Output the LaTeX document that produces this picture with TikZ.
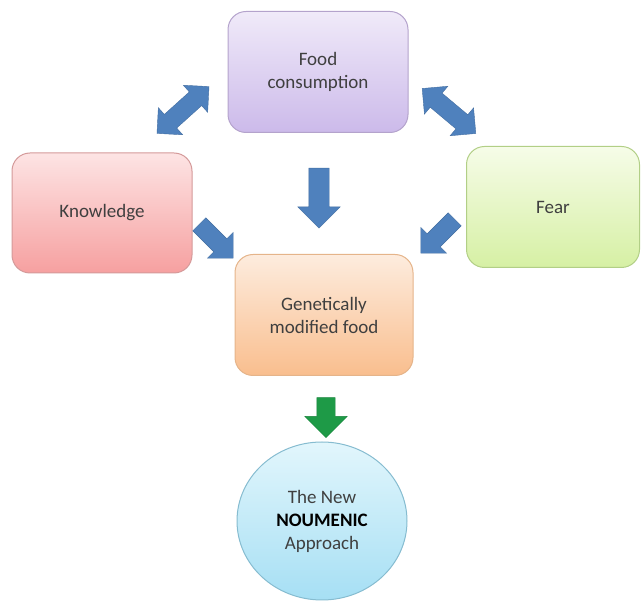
\documentclass[tikz,border=0pt]{standalone}
\usepackage{fontspec}
\setmainfont{Carlito}
\usetikzlibrary{shapes.arrows,shapes.geometric}

\definecolor{txtgray}{HTML}{3F3F3F}
\definecolor{arrowblue}{HTML}{4F81BD}
\definecolor{arrowgreen}{HTML}{1E9A47}
\definecolor{foodline}{HTML}{B4A3CC}
\definecolor{foodtop}{HTML}{F0EAF9}
\definecolor{foodbot}{HTML}{CCBAEA}
\definecolor{knowline}{HTML}{D49A9A}
\definecolor{knowtop}{HTML}{FDE4E4}
\definecolor{knowbot}{HTML}{F6A0A0}
\definecolor{fearline}{HTML}{B2CF86}
\definecolor{feartop}{HTML}{F6FCE8}
\definecolor{fearbot}{HTML}{D6F0A4}
\definecolor{gmline}{HTML}{E5B48A}
\definecolor{gmtop}{HTML}{FDECDE}
\definecolor{gmbot}{HTML}{F9BE8E}
\definecolor{newline}{HTML}{86BCD0}
\definecolor{newtop}{HTML}{E2F6FC}
\definecolor{newbot}{HTML}{A6DFF4}

\begin{document}
\begin{tikzpicture}[x=1pt, y=-1pt,
    box/.style={draw=#1line, top color=#1top, bottom color=#1bot,
        line width=1pt, rounded corners=18pt, align=center,
        text=txtgray, font=\fontsize{19}{23}\selectfont},
    arrow1/.style={single arrow, fill=arrowblue, draw=arrowblue!85!black,
        line width=0.4pt, single arrow head extend=9pt, inner xsep=0pt,
        inner ysep=9pt, minimum width=36pt, minimum height=48pt},
    arrow2/.style={double arrow, fill=arrowblue, draw=arrowblue!85!black,
        line width=0.4pt, double arrow head extend=9pt, inner xsep=0pt,
        inner ysep=9pt, minimum width=36pt, minimum height=70pt}]
    \useasboundingbox (0,0) rectangle (641,601);

    % Draw the four boxes
    \node[box=food, minimum width=180pt, minimum height=121pt] (food)
        at (318,72) {Food\\consumption};
    \node[box=know, minimum width=180pt, minimum height=120pt] (knowledge)
        at (102,213) {Knowledge};
    \node[box=fear, minimum width=173pt, minimum height=121pt] (fear)
        at (553,207) {Fear};
    \node[box=gm, minimum width=178pt, minimum height=121pt] (gmfood)
        at (324,315) {Genetically\\modified food};

    % Add the circle
    \node[box=new, ellipse, minimum width=170pt, minimum height=158pt]
        (noumenic) at (322,521)
        {The New\\\textcolor{black}{\textbf{NOUMENIC}}\\Approach};

    % Add block arrows
    \node[arrow2, rotate=42] (foodknow) at (183,110) {};
    \node[arrow2, rotate=-40] (foodfear) at (449,111) {};
    \node[arrow1, rotate=-90, inner ysep=10pt, minimum width=42pt,
        minimum height=60pt, single arrow head extend=11pt] (foodgm)
        at (319,193) {};
    \node[arrow1, rotate=-45] (knowgm) at (213,238) {};
    \node[arrow1, rotate=-135] (feargm) at (441,233) {};
    \node[arrow1, rotate=-90, fill=arrowgreen, draw=arrowgreen!85!black,
        minimum width=42pt, minimum height=40pt,
        single arrow head extend=12pt] (gmnew) at (326,413) {};
\end{tikzpicture}
\end{document}
